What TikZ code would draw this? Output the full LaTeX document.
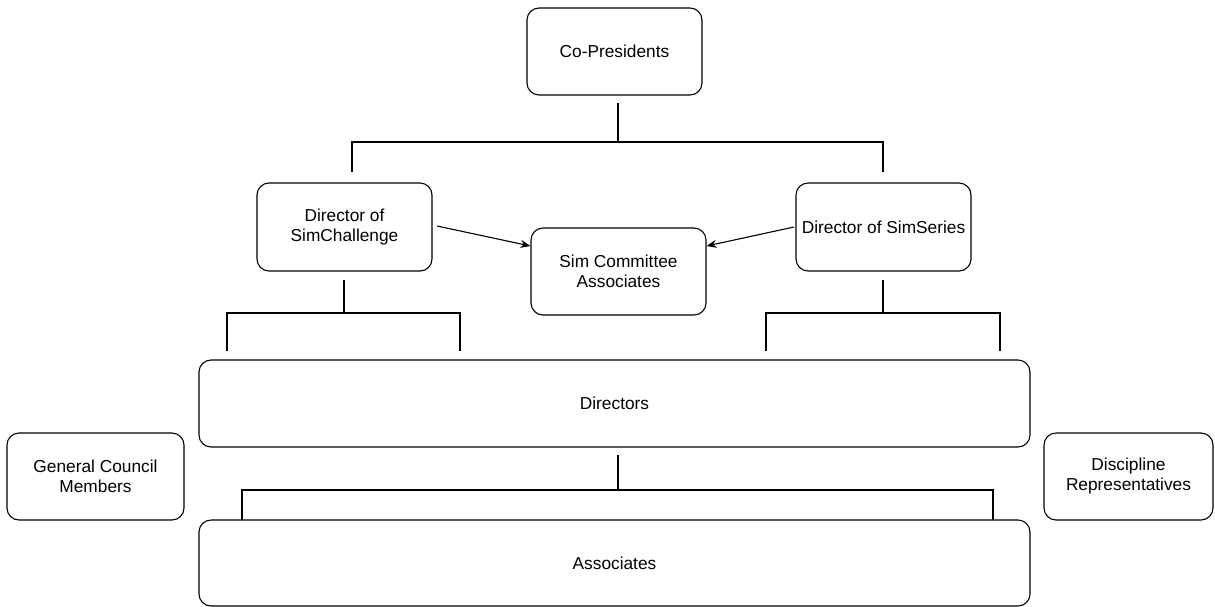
\documentclass[tikz,border=0pt]{standalone}
\usepackage{fontspec}
\setmainfont{Liberation Sans}
\usetikzlibrary{arrows.meta}
\begin{document}
\begin{tikzpicture}[x=1pt,y=-1pt,
  box/.style={draw=black,line width=1.1pt,rounded corners=12pt,align=center,inner sep=0pt,
    font=\fontsize{17.3}{20}\selectfont},
  bracket/.style={draw=black,line width=2.6pt},
  arr/.style={draw=black,line width=1.1pt,-{Stealth[length=10pt,width=8pt]}}]
\useasboundingbox (0,0) rectangle (1215,606);
\node[box,minimum width=175pt,minimum height=87pt] (cp) at (614.5,51.5) {Co-Presidents};
\node[box,minimum width=175pt,minimum height=88pt] (dsc) at (344.5,227) {Director of\\SimChallenge};
\node[box,minimum width=175pt,minimum height=88pt] (dss) at (883.5,227) {Director of SimSeries};
\node[box,minimum width=175pt,minimum height=87pt] (sca) at (618.5,271.5) {Sim Committee\\Associates};
\node[box,minimum width=831pt,minimum height=87pt] (dir) at (614.5,403.5) {Directors};
\node[box,minimum width=177pt,minimum height=87pt] (gcm) at (95.5,476.5) {General Council\\Members};
\node[box,minimum width=169pt,minimum height=87pt] (drp) at (1128.5,476.5) {Discipline\\Representatives};
\node[box,minimum width=831pt,minimum height=86pt] (asc) at (614.5,563) {Associates};
% top bracket
\coordinate (t0) at (618,103);
\coordinate (t1) at (618,142);
\draw[bracket] (t0) -- (t1);
\draw[bracket] (352,172) -- (352,142) -- (883,142) -- (883,172);
% left bracket
\draw[bracket] (344,280) -- (344,313);
\draw[bracket] (227,351) -- (227,313) -- (460,313) -- (460,351);
% right bracket
\draw[bracket] (883,280) -- (883,313);
\draw[bracket] (766,351) -- (766,313) -- (1000,313) -- (1000,351);
% bottom bracket
\draw[bracket] (618,455) -- (618,490);
\draw[bracket] (242,520) -- (242,490) -- (993,490) -- (993,520);
% arrows
\draw[arr] (437,226) -- (sca.west |- 0,246);
\draw[arr] (794,227) -- (sca.east |- 0,246);
\end{tikzpicture}
\end{document}
